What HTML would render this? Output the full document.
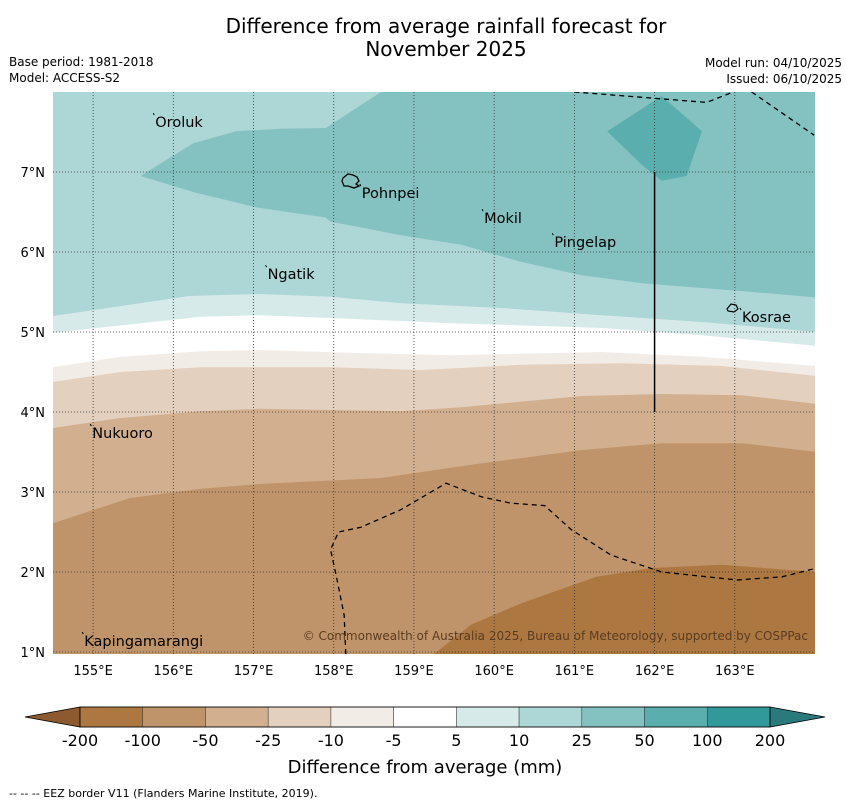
<!DOCTYPE html>
<html><head><meta charset="utf-8"><style>
html,body{margin:0;padding:0;background:#fff;}
svg{display:block;font-family:"DejaVu Sans","Liberation Sans",sans-serif;}
</style></head><body>
<svg id="chart" width="850" height="804" viewBox="0 0 850 804" xmlns="http://www.w3.org/2000/svg">
<text x="446" y="33" font-size="20" text-anchor="middle">Difference from average rainfall forecast for</text>
<text x="446" y="56" font-size="20" text-anchor="middle">November 2025</text>
<text x="9" y="66" font-size="12">Base period: 1981-2018</text>
<text x="9" y="82" font-size="12">Model: ACCESS-S2</text>
<text x="842" y="67" font-size="12" text-anchor="end">Model run: 04/10/2025</text>
<text x="842" y="83" font-size="12" text-anchor="end">Issued: 06/10/2025</text>
<g id="map"></g>
<g id="cbar"></g>
<text x="425" y="773" font-size="18" text-anchor="middle">Difference from average (mm)</text>
<text x="9" y="797" font-size="11">--  --  -- EEZ border V11 (Flanders Marine Institute, 2019).</text>
</svg>
<script>
const NS="http://www.w3.org/2000/svg";
// Map extent
const lonMin=154.5, lonMax=164.0, latMin=0.975, latMax=8.0;
const X0=53,X1=815,Y0=92,Y1=654;
// Colorbar data
const levels=["-200","-100","-50","-25","-10","-5","5","10","25","50","100","200"];
const bandColors=["#ad7741","#c0946a","#d2b08f","#e4d0be","#f2ece7","#ffffff","#d7eaea","#add6d6","#84c2c1","#5aaead","#32999a"];
// Contour boundaries (lon, lat), left to right; area below gets the given band
const b5Lon=[154.5,156.2,157.07,157.96,158.84,160.09,161.34,162.59,164.025];
const b5Lat=[5.2,5.45,5.475,5.44,5.36,5.3,5.21,5.125,5.0];
const bm5Lon=[154.5,156.34,157.07,157.96,159.46,161.34,162.59,164.025];
const bm5Lat=[4.99,5.19,5.21,5.175,5.11,5.05,4.96,4.825];
const bm10Lon=[154.5,155.34,156.34,157.07,158.2,159.46,161.34,162.59,164.025];
const bm10Lat=[4.56,4.69,4.76,4.775,4.74,4.71,4.75,4.69,4.575];
const bm25Lon=[154.5,155.34,156.34,157.96,159.09,160.34,161.59,162.84,164.025];
const bm25Lat=[4.375,4.5,4.56,4.56,4.525,4.59,4.61,4.575,4.45];
const bm50Lon=[154.5,155.34,156.34,157.07,158.84,159.59,161.09,162.09,163.09,164.025];
const bm50Lat=[3.8,3.925,4.01,4.04,4.01,4.06,4.2,4.225,4.21,4.1];
const bm100Lon=[154.5,155.46,156.34,157.07,158.59,159.71,161.09,162.09,163.09,164.025];
const bm100Lat=[2.61,2.925,3.04,3.1,3.175,3.34,3.525,3.61,3.61,3.5];
const bm200Lon=[159.25,159.71,160.34,161.275,161.96,162.84,164.025];
const bm200Lat=[0.975,1.34,1.61,1.94,2.05,2.09,2.0];
// Upper regions (closed, clockwise from top edge)
const p25Lon=[158.59,157.9,157.34,156.78,156.25,155.59,156.28,157.03,157.9,157.96,158.84,159.59,160.34,161.09,161.84,162.59,163.34,164.025,164.025];
const p25Lat=[8.0,7.55,7.54,7.51,7.36,6.95,6.74,6.56,6.43,6.38,6.21,6.09,5.875,5.71,5.61,5.55,5.49,5.43,8.0];
const p50Lon=[161.41,162.09,162.59,162.4,162.09,161.84];
const p50Lat=[7.51,7.95,7.51,6.95,6.89,7.09];
// EEZ dashed lines
const eezALon=[161.0,162.65,163.03];  const eezALat=[8.0,7.87,8.02];
const eezBLon=[163.21,163.99];        const eezBLat=[8.0,7.46];
const eezCLon=[158.15,158.13,158.03,157.96,158.06,158.34,158.84,159.4,159.84,160.21,160.63,160.96,161.46,162.09,163.03,163.59,164.025];
const eezCLat=[0.975,1.46,1.96,2.28,2.5,2.56,2.78,3.11,2.94,2.86,2.83,2.53,2.21,2.0,1.9,1.94,2.05];
// Places (label anchor, text baseline-left)
const placeNames=["Oroluk","Pohnpei","Mokil","Pingelap","Ngatik","Kosrae","Nukuoro","Kapingamarangi"];
const placeLon=[155.775,158.35,159.875,160.75,157.175,163.09,154.99,154.89];
const placeLat=[7.56,6.675,6.36,6.06,5.66,5.125,3.675,1.075];
const lonTicks=[155,156,157,158,159,160,161,162,163];
const latTicks=[1,2,3,4,5,6,7];

const sx=l=>X0+(l-lonMin)/(lonMax-lonMin)*(X1-X0);
const sy=l=>Y0+(latMax-l)/(latMax-latMin)*(Y1-Y0);
function mk(tag,attrs,parent){const e=document.createElementNS(NS,tag);for(const k in attrs)e.setAttribute(k,attrs[k]);parent.appendChild(e);return e;}
const map=document.getElementById('map');
const cp=mk('clipPath',{id:'mc'},map);mk('rect',{x:X0,y:Y0,width:X1-X0,height:Y1-Y0},cp);
const g=mk('g',{'clip-path':'url(#mc)'},map);
const bg=mk('rect',{x:X0,y:Y0,width:X1-X0,height:Y1-Y0,fill:bandColors[7]},g);


function below(lons,lats,color,name){
  let d='M'+sx(lons[0])+','+sy(lats[0]);
  for(let i=1;i<lons.length;i++)d+='L'+sx(lons[i])+','+sy(lats[i]);
  d+='L'+(X1+2)+','+(Y1+2)+'L'+(Math.min(sx(lons[0]),X0)-2)+','+(Y1+2)+'Z';
  const p=mk('path',{d:d,fill:color},g);
  
  
}
function poly(lons,lats,color,name){
  const pts=lons.map((l,i)=>sx(l)+','+sy(lats[i])).join(' ');
  const p=mk('polygon',{points:pts,fill:color},g);
  
  
}
poly(p25Lon.concat([164.1,158.59]),p25Lat.concat([8.1,8.1]),bandColors[8],'band-25-50');
poly(p50Lon,p50Lat,bandColors[9],'band-50-100');
below(b5Lon,b5Lat,bandColors[6],'band-5-10');
below(bm5Lon,bm5Lat,bandColors[5],'band-neutral');
below(bm10Lon,bm10Lat,bandColors[4],'band-minus10-minus5');
below(bm25Lon,bm25Lat,bandColors[3],'band-minus25-minus10');
below(bm50Lon,bm50Lat,bandColors[2],'band-minus50-minus25');
below(bm100Lon,bm100Lat,bandColors[1],'band-minus100-minus50');
below(bm200Lon,bm200Lat,bandColors[0],'band-minus200-minus100');
// grid
lonTicks.forEach(l=>{
  const x=sx(l);
  const ln=mk('line',{x1:x,y1:Y0,x2:x,y2:Y1,stroke:'#333','stroke-width':0.8,'stroke-dasharray':'1,2'},g);
  
  
  const t=mk('text',{x:x,y:Y1+21,'font-size':13,'text-anchor':'middle'},map);t.textContent=l+'°E';
  
  
});
latTicks.forEach(l=>{
  const y=sy(l);
  const ln=mk('line',{x1:X0,y1:y,x2:X1,y2:y,stroke:'#333','stroke-width':0.8,'stroke-dasharray':'1,2'},g);
  
  
  const t=mk('text',{x:X0-8,y:y+5,'font-size':13,'text-anchor':'end'},map);t.textContent=l+'°N';
  
  
});
function dline(lons,lats,name){
  const pts=lons.map((l,i)=>sx(l)+','+sy(lats[i])).join(' ');
  const p=mk('polyline',{points:pts,fill:'none',stroke:'#000','stroke-width':1.3,'stroke-dasharray':'5,4'},g);
  
  
}
dline(eezALon,eezALat,'eez-border-north');
dline(eezBLon,eezBLat,'eez-border-northeast');
dline(eezCLon,eezCLat,'eez-border-south');
const vl=mk('line',{x1:sx(162),y1:sy(7),x2:sx(162),y2:sy(4),stroke:'#000','stroke-width':1.5},g);


// islands
const pi=mk('path',{d:'M343,178 l5,-4 l5,1 l4,2 l2,4 l-3,3 l3,2 l-5,2 l-6,-2 l-4,0 l-2,-5 Z',fill:'none',stroke:'#000','stroke-width':1.3},g);


const ki=mk('path',{d:'M727,309 l4,-5 l5,1 l2,4 l-4,3 l-6,-1 Z',fill:'none',stroke:'#000','stroke-width':1.2},g);


placeNames.forEach((n,i)=>{
  const x=sx(placeLon[i]),y=sy(placeLat[i]);
  const d=mk('line',{x1:x-2,y1:y-14,x2:x-1,y2:y-12,stroke:'#000','stroke-width':1},g);
  
  
  const t=mk('text',{x:x,y:y,'font-size':14.5,fill:'#000'},g);t.textContent=n;
  
  
});
const cr=mk('text',{x:808,y:640,'font-size':12,'text-anchor':'end',fill:'#5a3c20'},g);
cr.textContent='© Commonwealth of Australia 2025, Bureau of Meteorology, supported by COSPPac';


// colorbar
const cb=document.getElementById('cbar');
const CX0=80,CX1=770,CY0=707,CY1=727,n=bandColors.length,bw=(CX1-CX0)/n;
const la=mk('polygon',{points:`${CX0},${CY0} 25,717 ${CX0},${CY1}`,fill:'#8c5a2e',stroke:'#000','stroke-width':0.8},cb);


const ra=mk('polygon',{points:`${CX1},${CY0} 825,717 ${CX1},${CY1}`,fill:'#2a7a7b',stroke:'#000','stroke-width':0.8},cb);


bandColors.forEach((c,i)=>{
  const r=mk('rect',{x:CX0+i*bw,y:CY0,width:bw,height:CY1-CY0,fill:c,stroke:'#333','stroke-width':0.5},cb);
  
  
});
mk('rect',{x:CX0,y:CY0,width:CX1-CX0,height:CY1-CY0,fill:'none',stroke:'#000','stroke-width':0.8},cb);
levels.forEach((lv,i)=>{
  const t=mk('text',{x:CX0+i*bw,y:746,'font-size':16,'text-anchor':'middle'},cb);t.textContent=lv;
  
  
});
</script>
</body></html>
